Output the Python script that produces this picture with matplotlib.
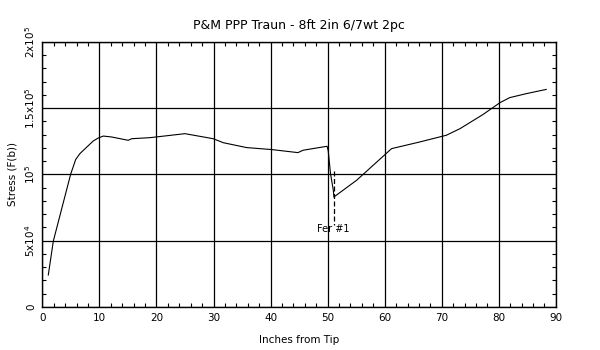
import numpy as np
import matplotlib.pyplot as plt
from matplotlib.ticker import MultipleLocator, FixedFormatter, FixedLocator

# stress curve
inches = [1.05, 1.93, 4.97, 5.85, 6.6, 8.93, 9.8, 10.7, 12.15, 15.06, 15.66, 18.9,
          25.0, 29.95, 31.7, 35.8, 40.2, 44.8, 45.7, 49.9, 50.1, 50.5, 51.0, 51.1,
          53.9, 55.1, 61.2, 66.1, 70.8, 73.2, 77.2, 80.2, 81.9, 84.8, 88.3]
stress = [24100, 49700, 100200, 111300, 115800, 125300, 127500, 129000, 128300, 125800, 127000, 127800,
          130800, 127000, 124000, 120300, 118800, 116500, 118300, 121300, 118000, 100700, 88000, 83000,
          91900, 95700, 119500, 124500, 129600, 134600, 145200, 154200, 158000, 161000, 164200]

# ferrule marker
fer_x = [51.05, 51.05]
fer_y = [102700, 61800]
fer_label = 'Fer #1'

ytick_vals = [0, 50000, 100000, 150000, 200000]
ytick_labels = ['0', r'5x10$^4$', r'10$^5$', r'1.5x10$^5$', r'2x10$^5$']

fig = plt.figure(figsize=(6, 3.5), dpi=100)
ax = fig.add_axes([0.0705, 0.123, 0.856, 0.757])

ax.plot(inches, stress, color='black', lw=0.8)
ax.plot(fer_x, fer_y, color='black', lw=0.9, ls=(0, (4, 2)))
ax.text(51.05, 58500, fer_label, fontsize=7, ha='center', va='center')

ax.set_xlim(0, 90)
ax.set_ylim(0, 200000)
ax.xaxis.set_major_locator(MultipleLocator(10))
ax.xaxis.set_minor_locator(MultipleLocator(2))
ax.yaxis.set_major_locator(FixedLocator(ytick_vals))
ax.yaxis.set_major_formatter(FixedFormatter(ytick_labels))
ax.yaxis.set_minor_locator(MultipleLocator(10000))
ax.grid(True, which='major', color='black', lw=0.9)
ax.tick_params(which='both', direction='in', top=True, right=True, labelsize=7.5)
ax.tick_params(which='major', length=0, pad=4)
ax.tick_params(which='minor', length=3, width=0.8)
for lab in ax.get_yticklabels():
    lab.set_rotation(90)
    lab.set_va('center')
for s in ax.spines.values():
    s.set_linewidth(1)

ax.set_title('P&M PPP Traun - 8ft 2in 6/7wt 2pc', fontsize=9, pad=9)
ax.set_xlabel('Inches from Tip', fontsize=7.5, labelpad=9)
ax.set_ylabel('Stress (F(b))', fontsize=7.5, labelpad=4)

fig.savefig('out.png', dpi=100)
